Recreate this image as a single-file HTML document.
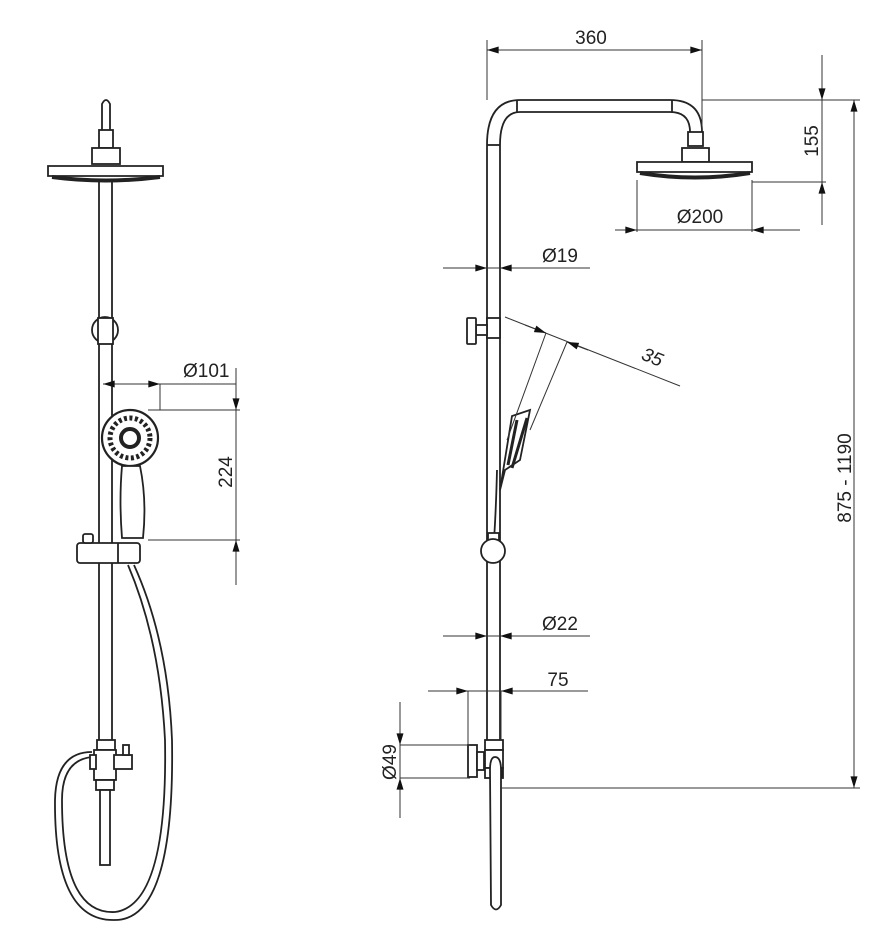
<!DOCTYPE html>
<html><head><meta charset="utf-8"><style>
html,body{margin:0;padding:0;background:#fff;}
svg{display:block;}
text{font-family:"Liberation Sans Narrow","Liberation Sans",sans-serif;font-size:19px;fill:#222;}
</style></head><body>
<svg width="877" height="943" viewBox="0 0 877 943" xmlns="http://www.w3.org/2000/svg">
<defs>
<marker id="a" viewBox="0 0 10 6" refX="10" refY="3" markerWidth="20" markerHeight="7" markerUnits="userSpaceOnUse" orient="auto"><path d="M0,0L10,3L0,6z" fill="#111"/></marker>
</defs>
<g fill="none" stroke="#222" stroke-width="1.8">
<!-- LEFT VIEW -->
<path d="M102,140 V104 Q106,96 110,104 V140" />
<rect x="99" y="130" width="14" height="18" fill="#fff"/>
<rect x="92" y="148" width="28" height="16" fill="#fff"/>
<path d="M48,166 L163,166 L163,176 L48,176 Z" fill="#fff"/>
<path d="M52,177 Q105,184 160,177" stroke-width="4"/>
<line x1="99" y1="180" x2="99" y2="740"/>
<line x1="112" y1="180" x2="112" y2="740"/>
<circle cx="105" cy="330" r="13" fill="#fff"/>
<rect x="98" y="318" width="15" height="26" fill="#fff"/>
<circle cx="130" cy="438" r="28" fill="#fff" stroke-width="2.2"/>
<circle cx="130" cy="438" r="20" stroke-dasharray="3 2.5" stroke-width="5"/>
<circle cx="130" cy="438" r="9" stroke-width="4"/>
<path d="M122,466 Q119,500 122,538 L143,538 Q147,500 140,466 Z" fill="#fff"/>
<rect x="77" y="543" width="63" height="20" rx="3" fill="#fff"/>
<rect x="83" y="534" width="10" height="9" rx="2" fill="#fff"/>
<line x1="118" y1="543" x2="118" y2="563"/>
<path d="M128,565 Q160,640 165,740 Q168,905 115,912 Q62,915 62,800 Q62,760 92,757"/>
<path d="M134,565 Q168,640 172,740 Q175,920 115,920 Q54,922 55,800 Q56,752 92,752"/>
<rect x="97" y="740" width="18" height="10" fill="#fff"/>
<path d="M94,750 H116 V780 H94 Z" fill="#fff"/>
<rect x="90" y="755" width="6" height="14" fill="#fff"/>
<rect x="114" y="755" width="18" height="14" fill="#fff"/>
<rect x="123" y="745" width="6" height="10" fill="#fff"/>
<rect x="96" y="780" width="18" height="10" fill="#fff"/>
<rect x="100" y="790" width="10" height="75" fill="#fff"/>
<!-- RIGHT VIEW -->
<path d="M487,745 V145 Q487,100 520,100 H670 Q702,100 702,132"/>
<path d="M500,745 V145 Q500,112 520,112 H670 Q690,112 690,132"/>
<line x1="487" y1="145" x2="500" y2="145"/>
<line x1="517" y1="100" x2="517" y2="112"/>
<line x1="672" y1="100" x2="672" y2="112"/>
<rect x="688" y="132" width="15" height="14" fill="#fff"/>
<rect x="682" y="148" width="27" height="14" fill="#fff"/>
<path d="M637,162 H752 V172 H637 Z" fill="#fff"/>
<path d="M640,173 Q695,182 750,173" stroke-width="4"/>
<rect x="487" y="318" width="13" height="20" fill="#fff"/>
<rect x="476" y="325" width="11" height="10" fill="#fff"/>
<rect x="467" y="318" width="9" height="26" rx="1" fill="#fff"/>
<path d="M500,490 L512,416 L530,410 L520,460 L505,470 Z" fill="#fff"/>
<path d="M508,465 L517,420 M512,468 L527,418" stroke-width="3"/>
<path d="M497,470 Q496,510 494,540"/>
<rect x="488" y="533" width="11" height="8" fill="#fff"/>
<circle cx="493" cy="551" r="12" fill="#fff"/>
<rect x="485" y="740" width="18" height="10" fill="#fff"/>
<rect x="485" y="750" width="18" height="18" fill="#fff"/>
<rect x="485" y="768" width="6" height="10" fill="#fff"/>
<rect x="497" y="768" width="6" height="10" fill="#111"/>
<path d="M490,770 Q490,757 495,757 Q501,757 501,770 V905 Q496,914 491,905 Z" fill="#fff"/>
<rect x="468" y="745" width="9" height="32" fill="#fff"/>
<rect x="477" y="752" width="7" height="18" fill="#fff"/>
</g>
<g fill="none" stroke="#333" stroke-width="1">
<line x1="103" y1="384" x2="236" y2="384"/>
<line x1="126" y1="384" x2="103" y2="384" marker-end="url(#a)"/>
<line x1="138" y1="384" x2="160" y2="384" marker-end="url(#a)"/>
<line x1="160" y1="384" x2="160" y2="410"/>
<line x1="148" y1="410" x2="240" y2="410"/>
<line x1="148" y1="540" x2="240" y2="540"/>
<line x1="236" y1="368" x2="236" y2="585"/>
<line x1="236" y1="385" x2="236" y2="410" marker-end="url(#a)"/>
<line x1="236" y1="565" x2="236" y2="540" marker-end="url(#a)"/>
<line x1="487" y1="40" x2="487" y2="100"/>
<line x1="702" y1="40" x2="702" y2="130"/>
<line x1="487" y1="50" x2="702" y2="50"/>
<line x1="510" y1="50" x2="487" y2="50" marker-end="url(#a)"/>
<line x1="680" y1="50" x2="702" y2="50" marker-end="url(#a)"/>
<line x1="702" y1="100" x2="860" y2="100"/>
<line x1="752" y1="182" x2="826" y2="182"/>
<line x1="822" y1="55" x2="822" y2="225"/>
<line x1="822" y1="78" x2="822" y2="100" marker-end="url(#a)"/>
<line x1="822" y1="204" x2="822" y2="182" marker-end="url(#a)"/>
<line x1="854" y1="100" x2="854" y2="788"/>
<line x1="854" y1="122" x2="854" y2="100" marker-end="url(#a)"/>
<line x1="854" y1="766" x2="854" y2="788" marker-end="url(#a)"/>
<line x1="500" y1="788" x2="860" y2="788"/>
<line x1="637" y1="180" x2="637" y2="232"/>
<line x1="752" y1="180" x2="752" y2="232"/>
<line x1="620" y1="230" x2="800" y2="230"/>
<line x1="615" y1="230" x2="637" y2="230" marker-end="url(#a)"/>
<line x1="774" y1="230" x2="752" y2="230" marker-end="url(#a)"/>
<line x1="443" y1="268" x2="590" y2="268"/>
<line x1="465" y1="268" x2="487" y2="268" marker-end="url(#a)"/>
<line x1="522" y1="268" x2="500" y2="268" marker-end="url(#a)"/>
<line x1="443" y1="636" x2="590" y2="636"/>
<line x1="465" y1="636" x2="487" y2="636" marker-end="url(#a)"/>
<line x1="522" y1="636" x2="500" y2="636" marker-end="url(#a)"/>
<line x1="428" y1="691" x2="588" y2="691"/>
<line x1="446" y1="691" x2="468" y2="691" marker-end="url(#a)"/>
<line x1="523" y1="691" x2="501" y2="691" marker-end="url(#a)"/>
<line x1="468" y1="691" x2="468" y2="745"/>
<line x1="501" y1="691" x2="501" y2="740"/>
<line x1="400" y1="702" x2="400" y2="818"/>
<line x1="400" y1="725" x2="400" y2="745" marker-end="url(#a)"/>
<line x1="400" y1="798" x2="400" y2="778" marker-end="url(#a)"/>
<line x1="400" y1="745" x2="470" y2="745"/>
<line x1="400" y1="778" x2="470" y2="778"/>
<line x1="505" y1="317" x2="680" y2="386"/>
<line x1="525" y1="325" x2="546" y2="333" marker-end="url(#a)"/>
<line x1="588" y1="350" x2="567" y2="342" marker-end="url(#a)"/>
<line x1="546" y1="333" x2="507" y2="440"/>
<line x1="567" y1="342" x2="530" y2="430"/>
</g>
<text x="183" y="377">Ø101</text>
<text transform="translate(232,472) rotate(-90)" text-anchor="middle">224</text>
<text x="591" y="44" text-anchor="middle">360</text>
<text transform="translate(818,141) rotate(-90)" text-anchor="middle">155</text>
<text transform="translate(851,478) rotate(-90)" text-anchor="middle">875 - 1190</text>
<text x="700" y="223" text-anchor="middle">Ø200</text>
<text x="560" y="262" text-anchor="middle">Ø19</text>
<text x="560" y="630" text-anchor="middle">Ø22</text>
<text x="558" y="686" text-anchor="middle">75</text>
<text transform="translate(396,762) rotate(-90)" text-anchor="middle">Ø49</text>
<text transform="translate(650,363) rotate(22)" text-anchor="middle" font-style="italic">35</text>
</svg>
</body></html>
